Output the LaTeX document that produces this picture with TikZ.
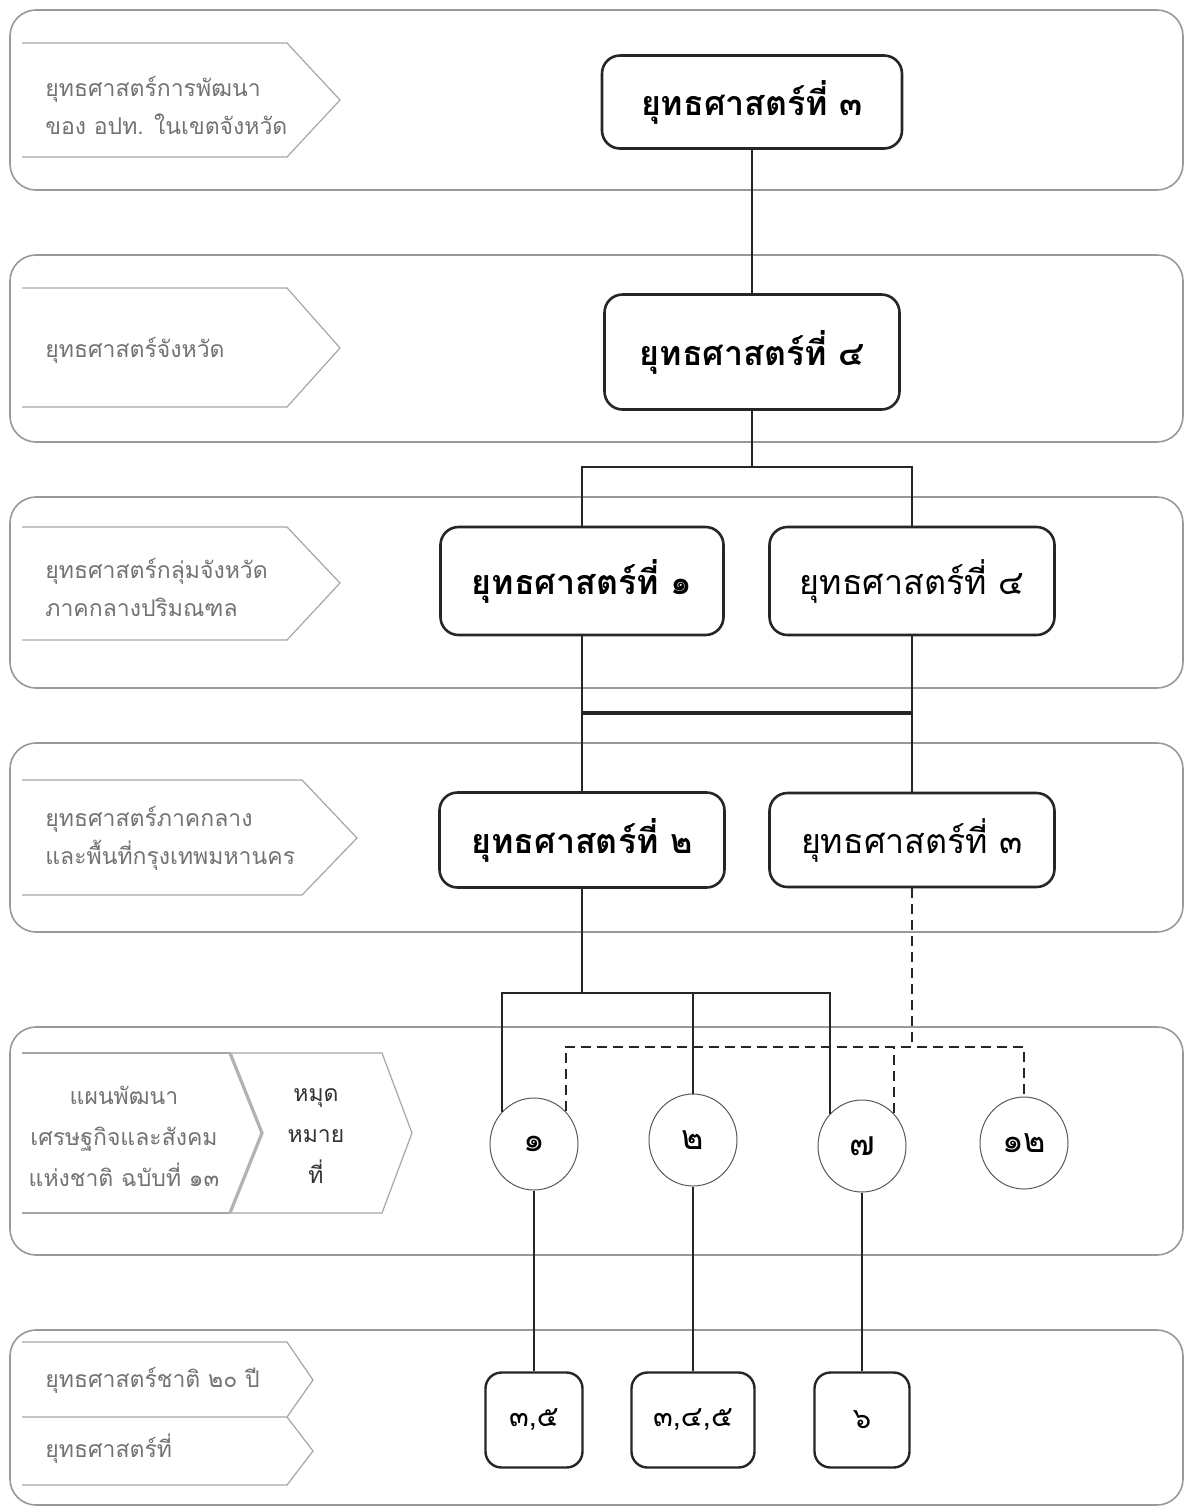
\documentclass[tikz,border=0pt]{standalone}
\usepackage{fontspec}
\newfontfamily\thai[Script=Thai]{Loma}
\usetikzlibrary{shapes.geometric}
\begin{document}
\begin{tikzpicture}[x=0.5pt,y=-0.5pt,
  band/.style={draw=black!40, line width=0.8pt, rounded corners=13pt},
  chev/.style={draw=black!35, line width=0.6pt},
  notch/.style={draw=black!30, line width=1.6pt},
  lbl/.style={font=\thai\fontsize{11.5}{19}\selectfont, text=black!55, align=left, anchor=west, inner sep=0pt},
  clbl/.style={font=\thai\fontsize{11.5}{20.5}\selectfont, text=black!55, align=center, inner sep=0pt},
  sbox/.style={draw=black!85, line width=1.3pt, rounded corners=9pt, font=\thai\bfseries\fontsize{17}{20}\selectfont, minimum width=142pt},
  rbox/.style={sbox, font=\thai\fontsize{17}{20}\selectfont},
  circ/.style={ellipse, draw=black!65, line width=0.5pt, minimum width=44pt, minimum height=46pt, inner sep=0pt, font=\thai\fontsize{17}{20}\selectfont},
  nbox/.style={draw=black!85, line width=1.2pt, rounded corners=8pt, minimum height=47.5pt, font=\thai\fontsize{14.5}{17}\selectfont},
  link/.style={draw=black!85, line width=1.2pt},
  dlink/.style={draw=black!85, line width=1.1pt, dash pattern=on 5pt off 3pt}
]
\useasboundingbox (0,0) rectangle (1189,1511);
\fill[white] (0,0) rectangle (1189,1511);

% bands
\draw[band] (10,10) rectangle (1183,190);
\draw[band] (10,255) rectangle (1183,442);
\draw[band] (10,497) rectangle (1183,688);
\draw[band] (10,743) rectangle (1183,932);
\draw[band] (10,1027) rectangle (1183,1255);
\draw[band] (10,1330) rectangle (1183,1505);

% left chevrons
\draw[chev] (22,43) -- (287,43) -- (340,100) -- (287,157) -- (22,157);
\draw[chev] (22,288) -- (287,288) -- (340,348) -- (287,407) -- (22,407);
\draw[chev] (22,527) -- (287,527) -- (340,583) -- (287,640) -- (22,640);
\draw[chev] (22,780) -- (302,780) -- (357,838) -- (302,895) -- (22,895);
\draw[chev] (22,1053) -- (230,1053);
\draw[chev] (22,1213) -- (230,1213);
\draw[chev] (230,1053) -- (382,1053) -- (412,1133) -- (382,1213) -- (230,1213);
\draw[notch] (230,1053) -- (262,1133) -- (230,1213);
\draw[chev] (22,1342) -- (287,1342) -- (313,1380) -- (287,1417) -- (22,1417);
\draw[chev] (287,1417) -- (313,1451) -- (287,1485) -- (22,1485);

% left labels
\node[lbl] (l1) at (45,105) {ยุทธศาสตร์การพัฒนา\\ของ อปท. ในเขตจังหวัด};
\node[lbl] (l2) at (45,350) {ยุทธศาสตร์จังหวัด};
\node[lbl] (l3) at (45,587) {ยุทธศาสตร์กลุ่มจังหวัด\\ภาคกลางปริมณฑล};
\node[lbl] (l4) at (45,838) {ยุทธศาสตร์ภาคกลาง\\และพื้นที่กรุงเทพมหานคร};
\node[clbl] (l5) at (124,1136) {แผนพัฒนา\\เศรษฐกิจและสังคม\\แห่งชาติ ฉบับที่ ๑๓};
\node[clbl, text=black!80] (l5b) at (316,1136) {หมุด\\หมาย\\ที่};
\node[lbl] (l6) at (45,1380) {ยุทธศาสตร์ชาติ ๒๐ ปี};
\node[lbl] (l7) at (45,1449) {ยุทธศาสตร์ที่};

% strategy boxes
\node[sbox, minimum width=150pt, minimum height=46.5pt] (b1) at (752,102) {ยุทธศาสตร์ที่ ๓};
\node[sbox, minimum width=147.5pt, minimum height=57.5pt] (b2) at (752,352) {ยุทธศาสตร์ที่ ๔};
\node[sbox, minimum width=141.5pt, minimum height=54pt] (b3a) at (582,581) {ยุทธศาสตร์ที่ ๑};
\node[rbox, minimum width=142.5pt, minimum height=54pt] (b3b) at (912,581) {ยุทธศาสตร์ที่ ๔};
\node[sbox, minimum width=142.5pt, minimum height=47.5pt] (b4a) at (582,840) {ยุทธศาสตร์ที่ ๒};
\node[rbox, minimum width=142.5pt, minimum height=47pt] (b4b) at (912,840) {ยุทธศาสตร์ที่ ๓};

% circles
\node[circ] (c1) at (534,1144) {๑};
\node[circ] (c2) at (693,1140) {๒};
\node[circ] (c7) at (862,1146) {๗};
\node[circ] (c12) at (1024,1143) {๑๒};

% bottom boxes
\node[nbox, minimum width=48.5pt] (n1) at (534,1420) {๓,๕};
\node[nbox, minimum width=61.5pt] (n2) at (693,1420) {๓,๔,๕};
\node[nbox, minimum width=47.5pt] (n3) at (862,1420) {๖};

% junctions
\coordinate (j1) at (752,467);
\coordinate (j2) at (582,713);
\coordinate (j3) at (912,713);
\coordinate (j4) at (582,993);
\coordinate (j5) at (912,1047);

% connectors
\draw[link] (b1.south) -- (b2.north);
\draw[link] (b2.south) -- (j1);
\draw[link] (b3a.north) |- (j1) -| (b3b.north);
\draw[link] (b3a.south) -- (j2) -- (b4a.north);
\draw[link] (b3b.south) -- (j3) -- (b4b.north);
\draw[link, line width=2pt] (j2) -- (j3);
\draw[link] (b4a.south) -- (j4);
\draw[link] (c1.135) |- (j4) -| (c7.135);
\draw[link] (c2.north) -- (c2.north |- j4);
\draw[dlink] (b4b.south) -- (j5);
\draw[dlink] (c1.46) |- (j5) -| (c12.north);
\draw[dlink] (c7.46) -- (c7.46 |- j5);
\draw[link] (c1.south) -- (n1.north);
\draw[link] (c2.south) -- (n2.north);
\draw[link] (c7.south) -- (n3.north);
\end{tikzpicture}
\end{document}
